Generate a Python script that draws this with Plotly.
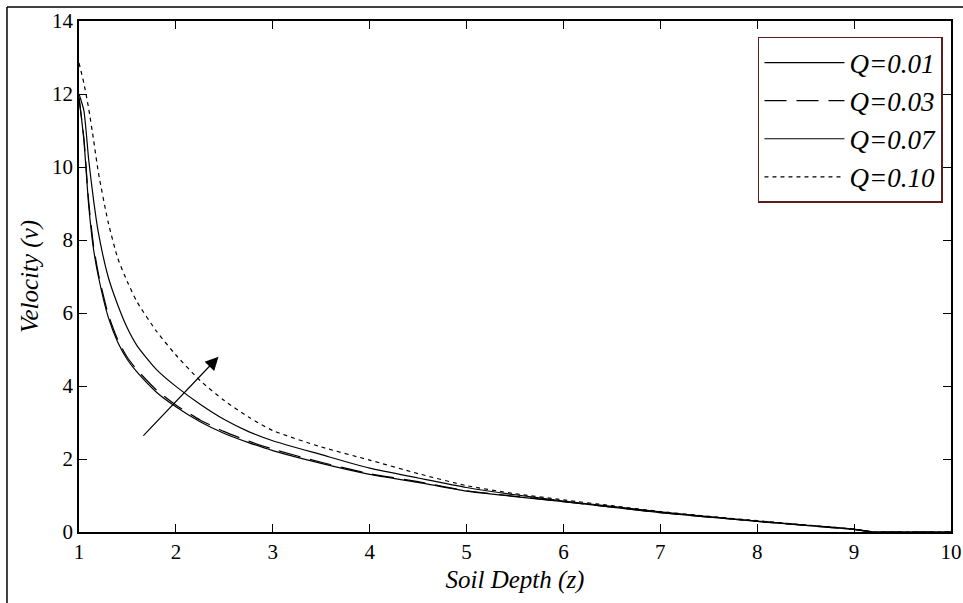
import plotly.graph_objects as go

z = [1.0, 1.05, 1.1, 1.15, 1.2, 1.3, 1.4, 1.5, 1.6, 1.8, 2.0, 2.25, 2.5, 2.75, 3.0,
     3.5, 4.0, 4.5, 5.0, 5.5, 6.0, 6.5, 7.0, 7.5, 8.0, 8.5, 9.0, 9.2, 9.5, 10.0]

v_q001 = [11.9, 10.75, 8.95, 7.75, 7.0, 5.9, 5.2, 4.72, 4.38, 3.83, 3.43, 3.02, 2.7, 2.45, 2.23,
          1.88, 1.58, 1.36, 1.12, 0.97, 0.83, 0.68, 0.53, 0.41, 0.29, 0.18, 0.07, 0.0, 0.0, 0.0]
v_q003 = [11.9, 10.8, 9.05, 7.85, 7.08, 5.98, 5.27, 4.78, 4.44, 3.89, 3.48, 3.07, 2.75, 2.49, 2.27,
          1.91, 1.6, 1.38, 1.13, 0.98, 0.83, 0.68, 0.53, 0.41, 0.29, 0.18, 0.07, 0.0, 0.0, 0.0]
v_q007 = [12.0, 11.55, 10.2, 9.1, 8.2, 7.0, 6.22, 5.58, 5.1, 4.45, 3.99, 3.5, 3.08, 2.75, 2.5,
          2.12, 1.75, 1.48, 1.22, 1.02, 0.85, 0.7, 0.55, 0.42, 0.3, 0.19, 0.08, 0.0, 0.0, 0.0]
v_q010 = [12.85, 12.3, 11.6, 10.75, 9.85, 8.5, 7.5, 6.85, 6.3, 5.5, 4.85, 4.15, 3.6, 3.15, 2.78,
          2.33, 1.97, 1.6, 1.27, 1.05, 0.88, 0.72, 0.56, 0.43, 0.31, 0.19, 0.08, 0.0, 0.0, 0.0]

series = [
    ("Q=0.01", v_q001, "solid"),
    ("Q=0.03", v_q003, "22px,10px"),
    ("Q=0.07", v_q007, "solid"),
    ("Q=0.10", v_q010, "4px,4px"),
]

x_ticks = [1, 2, 3, 4, 5, 6, 7, 8, 9, 10]
y_ticks = [0, 2, 4, 6, 8, 10, 12, 14]

arrow_tail = (1.65, 2.6)
arrow_head = (2.44, 4.8)

serif = "Liberation Serif"

fig = go.Figure()
for i, (name, vals, dash) in enumerate(series):
    fig.add_trace(go.Scatter(
        x=z, y=vals, mode="lines", name=f"<i>{name}</i>", legendgroup=f"g{i}",
        line=dict(color="black", width=1.2, dash=dash, shape="spline", smoothing=0.6),
    ))

fig.add_annotation(
    x=arrow_head[0], y=arrow_head[1], ax=arrow_tail[0], ay=arrow_tail[1],
    xref="x", yref="y", axref="x", ayref="y",
    showarrow=True, arrowhead=2, arrowsize=2.2, arrowwidth=1.2, arrowcolor="black", text="",
)

# outer frame (top and left edges visible)
fig.add_shape(type="line", xref="paper", yref="paper", x0=-0.0826, x1=1.2, y0=1.0274, y1=1.0274,
              line=dict(color="black", width=1.5))
fig.add_shape(type="line", xref="paper", yref="paper", x0=-0.0826, x1=-0.0826, y0=1.0274, y1=-0.3,
              line=dict(color="black", width=1.5))

axis_common = dict(
    showline=True, linecolor="black", linewidth=1.5, mirror="ticks",
    ticks="inside", ticklen=8, tickcolor="black", tickwidth=1.2,
    showgrid=False, zeroline=False, automargin=False,
    tickfont=dict(family=serif, size=21, color="black"),
)

fig.update_layout(
    width=963, height=603,
    margin=dict(l=79, r=12, t=21, b=71),
    paper_bgcolor="white", plot_bgcolor="white",
    xaxis=dict(range=[1, 10], tickvals=x_ticks, ticktext=[str(t) for t in x_ticks],
               title=dict(text="<i>Soil Depth (z)</i>", font=dict(family=serif, size=25, color="black"),
                          standoff=8),
               **axis_common),
    yaxis=dict(range=[0, 14], tickvals=y_ticks, ticktext=[str(t) for t in y_ticks],
               title=dict(text="<i>Velocity (v)</i>", font=dict(family=serif, size=25, color="black"),
                          standoff=6),
               **axis_common),
    legend=dict(
        x=0.9908, y=0.9687, xanchor="right", yanchor="top",
        bgcolor="white", bordercolor="#5a1e1e", borderwidth=1.5,
        font=dict(family=serif, size=27, color="black"),
        itemwidth=80, tracegroupgap=0, traceorder="grouped",
    ),
    showlegend=True,
)

fig.write_html("out.html")
